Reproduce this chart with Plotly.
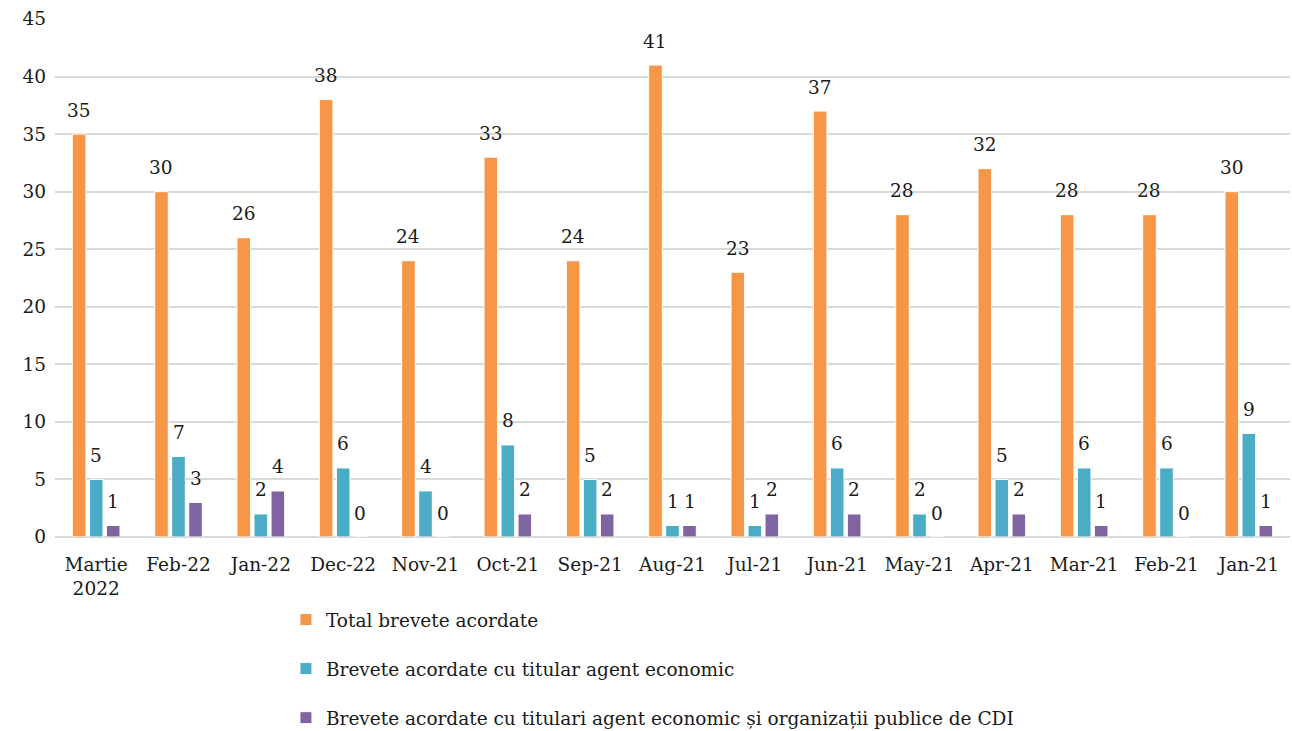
import plotly.graph_objects as go

categories = ["Martie<br>2022", "Feb-22", "Jan-22", "Dec-22", "Nov-21", "Oct-21", "Sep-21",
              "Aug-21", "Jul-21", "Jun-21", "May-21", "Apr-21", "Mar-21", "Feb-21", "Jan-21"]
total = [35, 30, 26, 38, 24, 33, 24, 41, 23, 37, 28, 32, 28, 28, 30]
agent_economic = [5, 7, 2, 6, 4, 8, 5, 1, 1, 6, 2, 5, 6, 6, 9]
agent_si_cdi = [1, 3, 4, 0, 0, 2, 2, 1, 2, 2, 0, 2, 1, 0, 1]

series_names = [
    "Total brevete acordate",
    "Brevete acordate cu titular agent economic",
    "Brevete acordate cu titulari agent economic și organizații publice de CDI",
]
colors = ["#F79646", "#4BACC6", "#8064A2"]

FONT = "DejaVu Serif"
FS = 18.5
W, H = 1292, 731
M_L, M_R, M_T, M_B = 55, 2, 19, 194
BARGAP = 0.38

fig = go.Figure()
all_series = [total, agent_economic, agent_si_cdi]
for i, (name, vals, col) in enumerate(zip(series_names, all_series, colors)):
    fig.add_trace(go.Bar(
        x=categories, y=vals, name=name, legendgroup=f"g{i}",
        marker=dict(color=col, line=dict(color="white", width=1)),
        cliponaxis=False,
    ))

# value labels placed above each bar, offset horizontally to its slot in the group
cat_px = (W - M_L - M_R) / len(categories)
slot_px = cat_px * (1 - BARGAP) / len(all_series)
annotations = []
for i, vals in enumerate(all_series):
    dx = (i - 1) * slot_px
    for c, v in zip(categories, vals):
        annotations.append(dict(
            x=c, y=v, xref="x", yref="y", text=str(v), showarrow=False,
            xshift=dx, yshift=24, yanchor="middle",
            font=dict(family=FONT, size=FS, color="#1a1a1a"),
        ))

fig.update_layout(
    width=W, height=H,
    margin=dict(l=M_L, r=M_R, t=M_T, b=M_B, autoexpand=False),
    paper_bgcolor="white", plot_bgcolor="white",
    barmode="group", bargap=BARGAP, bargroupgap=0.2,
    font=dict(family=FONT, size=FS, color="#1a1a1a"),
    yaxis=dict(range=[0, 45], dtick=5, showgrid=True, gridcolor="#d9d9d9", gridwidth=1.5,
               zeroline=True, zerolinecolor="#d9d9d9", zerolinewidth=1.5,
               ticks="", tickfont=dict(size=FS), ticklabelstandoff=8),
    xaxis=dict(showgrid=False, ticks="", tickfont=dict(size=FS), tickangle=0,
               ticklabelstandoff=14),
    legend=dict(orientation="v", x=0.187, xanchor="left", y=-0.1236, yanchor="top",
                font=dict(family=FONT, size=FS), tracegroupgap=22,
                itemwidth=30, traceorder="grouped", bgcolor="rgba(0,0,0,0)"),
    annotations=annotations,
)

fig.write_html("out.html")
